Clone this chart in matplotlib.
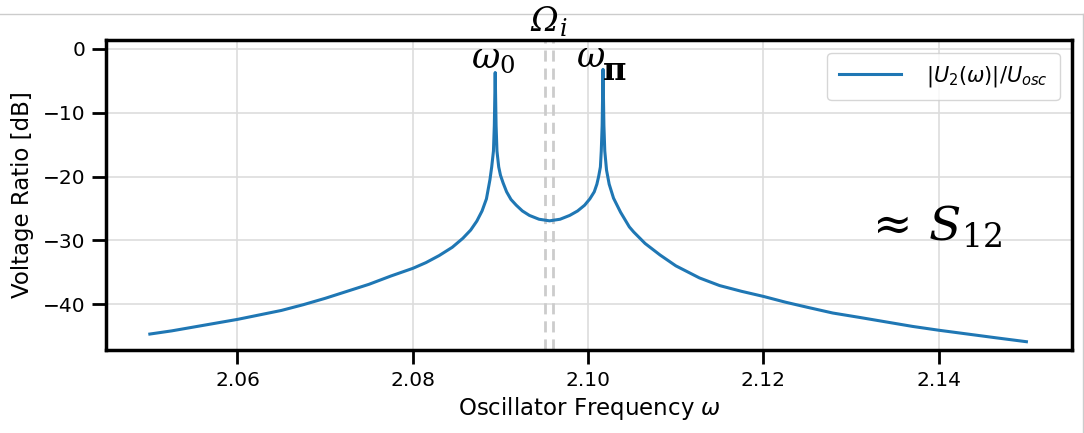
import matplotlib
matplotlib.use("Agg")
import matplotlib.pyplot as plt
from matplotlib.lines import Line2D

# values
omega = [2.0500, 2.0525, 2.0550, 2.0575, 2.0600, 2.0625, 2.0650, 2.0675,
         2.0700, 2.0725, 2.0750, 2.0775, 2.0800, 2.0815, 2.0830, 2.0845,
         2.0857, 2.0866, 2.0873, 2.0879, 2.0884, 2.0886, 2.0888, 2.0890,
         2.0892, 2.0893, 2.0894, 2.0895, 2.0896, 2.0898, 2.0900, 2.0903,
         2.0907, 2.0912, 2.0918, 2.0925, 2.0933, 2.0944, 2.0956, 2.0968,
         2.0979, 2.0988, 2.0996, 2.1002, 2.1007, 2.1010, 2.1012, 2.1014,
         2.1015, 2.1016, 2.1017, 2.1018, 2.1019, 2.1021, 2.1024, 2.1029,
         2.1037, 2.1047, 2.1052, 2.1065, 2.1082, 2.1100, 2.1127, 2.1150,
         2.1175, 2.1200, 2.1225, 2.1250, 2.1279, 2.1310, 2.1340, 2.1370,
         2.1400, 2.1433, 2.1466, 2.1500]
ratio_db = [-44.7, -44.2, -43.6, -43.0, -42.4, -41.7, -41.0, -40.1,
            -39.1, -38.0, -36.9, -35.6, -34.4, -33.5, -32.4, -31.1,
            -29.7, -28.4, -27.0, -25.4, -23.5, -22.0, -20.5, -18.5,
            -16.0, -12.0, -3.7, -12.0, -16.0, -18.5, -19.8, -21.0,
            -22.4, -23.6, -24.5, -25.4, -26.1, -26.7, -26.95, -26.7,
            -26.1, -25.4, -24.5, -23.5, -22.4, -21.2, -20.0, -18.5,
            -16.0, -12.0, -3.2, -12.0, -16.0, -19.0, -21.2, -23.4,
            -25.6, -27.9, -28.7, -30.5, -32.3, -34.0, -35.9, -37.1,
            -38.0, -38.8, -39.7, -40.5, -41.4, -42.1, -42.8, -43.5,
            -44.1, -44.7, -45.3, -45.9]
marker_lines = [2.0951, 2.0960]
x_ticks = [2.06, 2.08, 2.10, 2.12, 2.14]
y_ticks = [0, -10, -20, -30, -40]

W, H = 1084, 433
fig = plt.figure(figsize=(W / 100, H / 100), dpi=100)
ax = fig.add_axes([106 / W, (H - 350) / H, (1072 - 106) / W, (350 - 40) / H])

ax.grid(True, color="#dddddd", lw=1.2)
ax.set_axisbelow(True)
for xv in marker_lines:
    ax.axvline(xv, color="#cccccc", lw=2, ls=(0, (4, 2.5)), zorder=1)
ax.plot(omega, ratio_db, color="#1f77b4", lw=2.2, label=r"$|U_2(\omega)|/U_{osc}$",
        zorder=3, solid_joinstyle="round")

ax.set_xlim(2.045, 2.1552)
ax.set_ylim(-47.2, 1.4)
ax.set_xticks(x_ticks)
ax.set_yticks(y_ticks)
ax.set_xticklabels([f"{t:.2f}" for t in x_ticks])
ax.set_yticklabels(["0", "\u221210", "\u221220", "\u221230", "\u221240"])
ax.tick_params(length=10, width=2, labelsize=14.5, pad=5, colors="black")
for s in ax.spines.values():
    s.set_linewidth(2.5)
    s.set_color("black")
ax.set_xlabel(r"Oscillator Frequency $\omega$", fontsize=16.5, labelpad=4)
ax.set_ylabel("Voltage Ratio [dB]", fontsize=16.5, labelpad=6)

leg = ax.legend(loc="upper right", fontsize=15, handlelength=3.0,
                handletextpad=1.2, borderaxespad=0.6, borderpad=0.55)
leg.get_frame().set_edgecolor("#cccccc")

# annotations
fig.text(530 / W, 1 - 31 / H, "\u03a9", fontsize=24, family="DejaVu Serif",
         style="italic", ha="left", va="baseline")
fig.text(560 / W, 1 - 36 / H, "i", fontsize=17, family="DejaVu Serif",
         style="italic", ha="left", va="baseline")
fig.text(471 / W, 1 - 67 / H, r"$\omega_0$", fontsize=25, math_fontfamily="dejavuserif",
         ha="left", va="baseline")
fig.text(576 / W, 1 - 67 / H, r"$\omega$", fontsize=25, math_fontfamily="dejavuserif",
         ha="left", va="baseline")
fig.text(603 / W, 1 - 80 / H, "\u03c0", fontsize=23, family="DejaVu Serif",
         fontweight="bold", ha="left", va="baseline")
fig.text(864 / W, 1 - 241 / H, r"$\approx\, S_{12}$", fontsize=34, math_fontfamily="dejavuserif",
         ha="left", va="baseline")

# thin frame around the picture
fig.add_artist(Line2D([0, 1083 / W], [1 - 14 / H, 1 - 14 / H], color="#cccccc", lw=1))
fig.add_artist(Line2D([1083 / W, 1083 / W], [0, 1 - 14 / H], color="#cccccc", lw=1))

fig.savefig("out.png", dpi=100)
